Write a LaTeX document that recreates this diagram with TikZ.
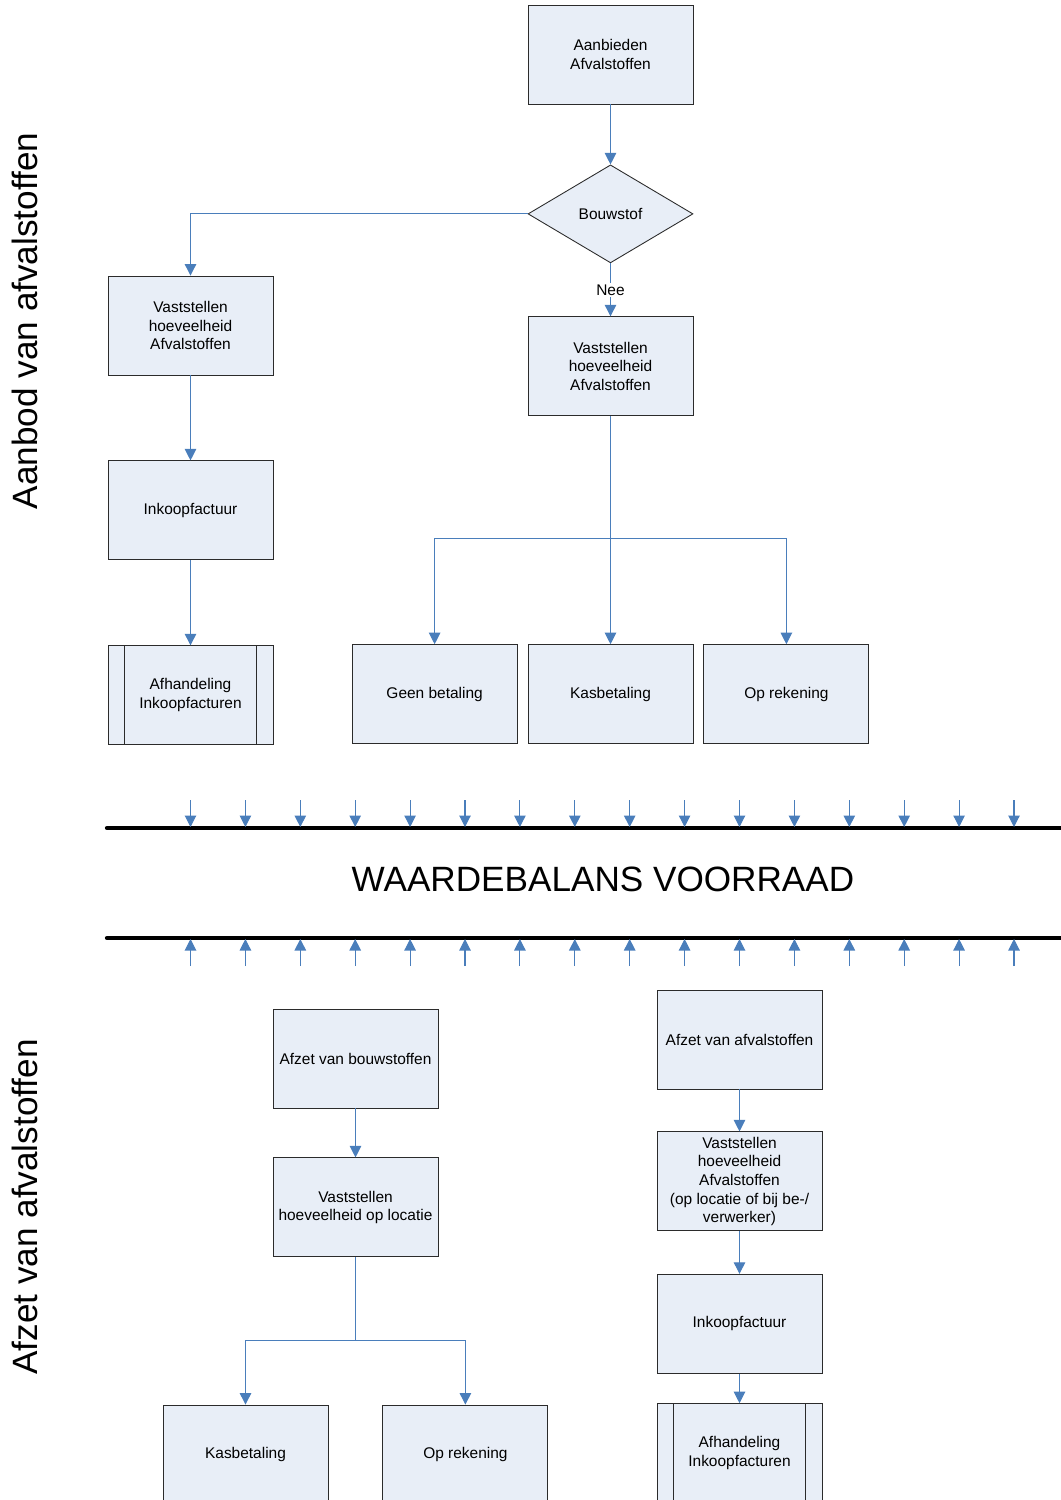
\documentclass[tikz,border=0pt]{standalone}
\usepackage{fontspec}
\setmainfont{Liberation Sans}
\usetikzlibrary{arrows.meta,positioning,shapes.geometric}
\definecolor{wbblue}{HTML}{4A7EBB}
\definecolor{wbfill}{HTML}{E8EEF7}
\definecolor{wbink}{HTML}{2B2B2B}
\tikzset{
  stap/.style={draw=wbink, fill=wbfill, line width=0.5pt, align=center, minimum width=33mm, minimum height=19.8mm, inner sep=1pt, font=\fontsize{8.8}{10.6}\selectfont},
  keuze/.style={stap, diamond, minimum height=19.6mm},
  proc/.style={stap, path picture={
    \draw[wbink, line width=0.5pt] ([xshift=3.3mm]path picture bounding box.north west) -- ([xshift=3.3mm]path picture bounding box.south west);
    \draw[wbink, line width=0.5pt] ([xshift=-3.3mm]path picture bounding box.north east) -- ([xshift=-3.3mm]path picture bounding box.south east);
  }},
  pijl/.style={-{Triangle[length=2.3mm,width=2.3mm]}, line width=0.6pt, color=wbblue},
  lijn/.style={line width=0.6pt, color=wbblue},
  balk/.style={line width=2.4pt, line cap=round, color=black},
  kop/.style={font=\fontsize{20}{24}\selectfont},
}

\begin{document}
\begin{tikzpicture}[x=0.2mm, y=-0.2mm, node distance=11mm]
    \useasboundingbox (0,0) rectangle (1061,1500);
    % aanbod
    \node[stap] (aanb) at (610.5,54.5) {Aanbieden\\Afvalstoffen};
    \node[keuze, below=12mm of aanb] (bouw) {Bouwstof};
    \node[stap, below=10.6mm of bouw] (vastR) {Vaststellen\\hoeveelheid\\Afvalstoffen};
    \node[stap] (vastL) at (190.5,325.5) {Vaststellen\\hoeveelheid\\Afvalstoffen};
    \node[stap, below=17mm of vastL] (inkL) {Inkoopfactuur};
    \node[proc, below=17mm of inkL] (afhL) {Afhandeling\\Inkoopfacturen};
    \node[stap, below=45.6mm of vastR] (kas) {Kasbetaling};
    \node[stap, left=2mm of kas] (geen) {Geen betaling};
    \node[stap, right=2mm of kas] (oprek) {Op rekening};
    \coordinate[below=24.4mm of vastR.south] (splitR);
    \draw[pijl] (aanb) -- (bouw);
    \draw[pijl] (bouw.west) -| (vastL.north);
    \draw[pijl] (bouw) -- node[fill=white, text=black, inner sep=1pt, font=\fontsize{8.8}{10.6}\selectfont] {Nee} (vastR);
    \draw[pijl] (vastL) -- (inkL); \draw[pijl] (inkL) -- (afhL);
    \draw[pijl] (vastR) -- (kas); \draw[pijl] (splitR) -| (geen); \draw[pijl] (splitR) -| (oprek);
    % waardebalans
    \coordinate (boven1) at (107,828); \coordinate (boven2) at (1061,828);
    \coordinate (onder1) at (107,938); \coordinate (onder2) at (1061,938);
    \draw[balk] (boven1) -- (boven2); \draw[balk] (onder1) -- (onder2);
    \foreach \i in {0,...,15}{
      \coordinate (in\i) at (190.5+54.9*\i,800); \coordinate (inb\i) at (190.5+54.9*\i,827);
      \coordinate (uit\i) at (190.5+54.9*\i,966); \coordinate (uitb\i) at (190.5+54.9*\i,939);
      \draw[pijl] (in\i) -- (inb\i); \draw[pijl] (uit\i) -- (uitb\i);
    }
    \node[kop] (balans) at (603,879) {WAARDEBALANS VOORRAAD};
    \node[kop, rotate=90] (aanbodlbl) at (25,321) {Aanbod van afvalstoffen};
    \node[kop, rotate=90] (afzetlbl) at (25,1207) {Afzet van afvalstoffen};
    % afzet
    \node[stap] (afzB) at (355.5,1058.5) {Afzet van bouwstoffen};
    \node[stap, below=9.8mm of afzB] (vastB) {Vaststellen\\hoeveelheid op locatie};
    \node[stap] (kasB) at (245.5,1454.5) {Kasbetaling};
    \node[stap, right=10.8mm of kasB] (oprekB) {Op rekening};
    \coordinate[below=16.6mm of vastB.south] (splitB);
    \node[stap] (afzA) at (739.5,1039.5) {Afzet van afvalstoffen};
    \node[stap, below=8.4mm of afzA] (vastA) {Vaststellen\\hoeveelheid\\Afvalstoffen\\(op locatie of bij be-/\\verwerker)};
    \node[stap, below=8.5mm of vastA] (inkA) {Inkoopfactuur};
    \node[proc, below=5.9mm of inkA] (afhA) {Afhandeling\\Inkoopfacturen};
    \draw[pijl] (afzB) -- (vastB); \draw[lijn] (vastB) -- (splitB);
    \draw[pijl] (splitB) -| (kasB); \draw[pijl] (splitB) -| (oprekB);
    \draw[pijl] (afzA) -- (vastA); \draw[pijl] (vastA) -- (inkA); \draw[pijl] (inkA) -- (afhA);
\end{tikzpicture}
\end{document}
